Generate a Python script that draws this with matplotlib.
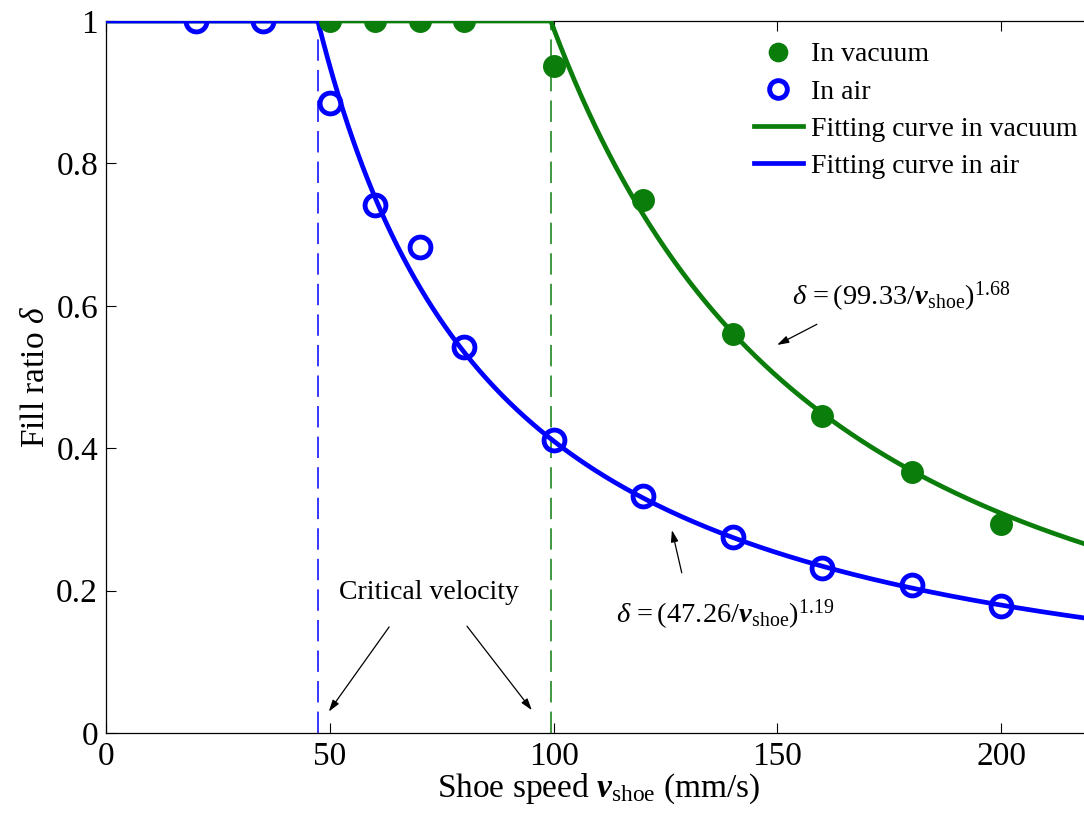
import numpy as np
import matplotlib
matplotlib.use("Agg")
import matplotlib.pyplot as plt

plt.rcParams['font.family'] = ['Liberation Serif', 'DejaVu Serif']
plt.rcParams['mathtext.fontset'] = 'custom'
plt.rcParams['mathtext.rm'] = 'Liberation Serif'
plt.rcParams['mathtext.it'] = 'Liberation Serif:italic'
plt.rcParams['mathtext.bf'] = 'Liberation Serif:bold:italic'

# measured points
speed_vac = [50, 60, 70, 80, 100, 120, 140, 160, 180, 200]
fill_vac = [1.0, 1.0, 1.0, 1.0, 0.937, 0.748, 0.560, 0.445, 0.367, 0.294]
speed_air = [20, 35, 50, 60, 70, 80, 100, 120, 140, 160, 180, 200]
fill_air = [1.0, 1.0, 0.885, 0.742, 0.682, 0.542, 0.412, 0.333, 0.275, 0.232, 0.208, 0.178]

# fitting curves: delta = (vc / v)^n, delta = 1 below vc
vc_vac, n_vac = 99.33, 1.68
vc_air, n_air = 47.26, 1.19

xticks = [0, 50, 100, 150, 200]
yticks = [0, 0.2, 0.4, 0.6, 0.8, 1.0]
ytick_labels = ['0', '0.2', '0.4', '0.6', '0.8', '1']

green = '#0a7d0a'
blue = '#0000ff'

fig = plt.figure(figsize=(10.84, 8.14), dpi=100)
ax = fig.add_axes([106.4 / 1084, 1 - 733 / 814, (220 * 4.474) / 1084, 712 / 814])


def fit(v, vc, n):
    return np.where(v <= vc, 1.0, (vc / v) ** n)


v = np.linspace(0, 220, 1000)
ax.plot(v, fit(v, vc_vac, n_vac), color=green, lw=3.4, label='Fitting curve in vacuum', zorder=3)
ax.plot(v, fit(v, vc_air, n_air), color=blue, lw=3.4, label='Fitting curve in air', zorder=3)

# critical velocity markers
for vc, c in [(vc_air, blue), (vc_vac, green)]:
    ln, = ax.plot([vc, vc], [0, 1], color=c, lw=1.1, zorder=2)
    ln.set_dashes((14, 6))

ax.plot(speed_vac, fill_vac, 'o', color=green, ms=15.5, mec=green, label='In vacuum', zorder=4)
ax.plot(speed_air, fill_air, 'o', mfc='none', mec=blue, ms=15, mew=3.5, label='In air', zorder=4)

ax.set_xlim(0, 220)
ax.set_ylim(0, 1)
ax.set_xticks(xticks)
ax.set_yticks(yticks)
ax.set_yticklabels(ytick_labels)
ax.tick_params(direction='in', length=7, width=0.8, labelsize=24, top=True, right=False, pad=6)
for s in ax.spines.values():
    s.set_linewidth(0.9)

ax.set_xlabel(r'Shoe speed $\mathbf{v}_{\mathrm{shoe}}$ (mm/s)', fontsize=24, labelpad=0)
ax.set_ylabel(r'Fill ratio $\delta$', fontsize=24, labelpad=4)

arrow = dict(arrowstyle='-|>,head_length=0.7,head_width=0.22', color='black', lw=0.9, shrinkA=0, shrinkB=0)

ax.text(72.2, 0.197, 'Critical velocity', fontsize=20, ha='center', va='center')
ax.annotate('', xy=(49.7, 0.03), xytext=(63.2, 0.149), arrowprops=arrow)
ax.annotate('', xy=(95.1, 0.032), xytext=(80.6, 0.150), arrowprops=arrow)

ax.text(153.3, 0.612, r'$\delta\,\mathrm{=(99.33/}\mathbf{v}_{\mathrm{shoe}}\mathrm{)}^{1.68}$',
        fontsize=20.5, ha='left', va='center')
ax.annotate('', xy=(149.9, 0.545), xytext=(158.8, 0.574), arrowprops=arrow)

ax.text(113.8, 0.166, r'$\delta\,\mathrm{=(47.26/}\mathbf{v}_{\mathrm{shoe}}\mathrm{)}^{1.19}$',
        fontsize=20.5, ha='left', va='center')
ax.annotate('', xy=(126.4, 0.285), xytext=(128.6, 0.225), arrowprops=arrow)

h, l = ax.get_legend_handles_labels()
order = [2, 3, 0, 1]
ax.legend([h[i] for i in order], [l[i] for i in order], loc='upper left',
          bbox_to_anchor=(754 / 1084, 1 - 42 / 814), bbox_transform=fig.transFigure,
          frameon=False, fontsize=20, handlelength=1.75, handletextpad=0.3,
          labelspacing=0.42, borderpad=0, borderaxespad=0, numpoints=1, markerscale=0.85)

fig.savefig('out.png', dpi=100)
